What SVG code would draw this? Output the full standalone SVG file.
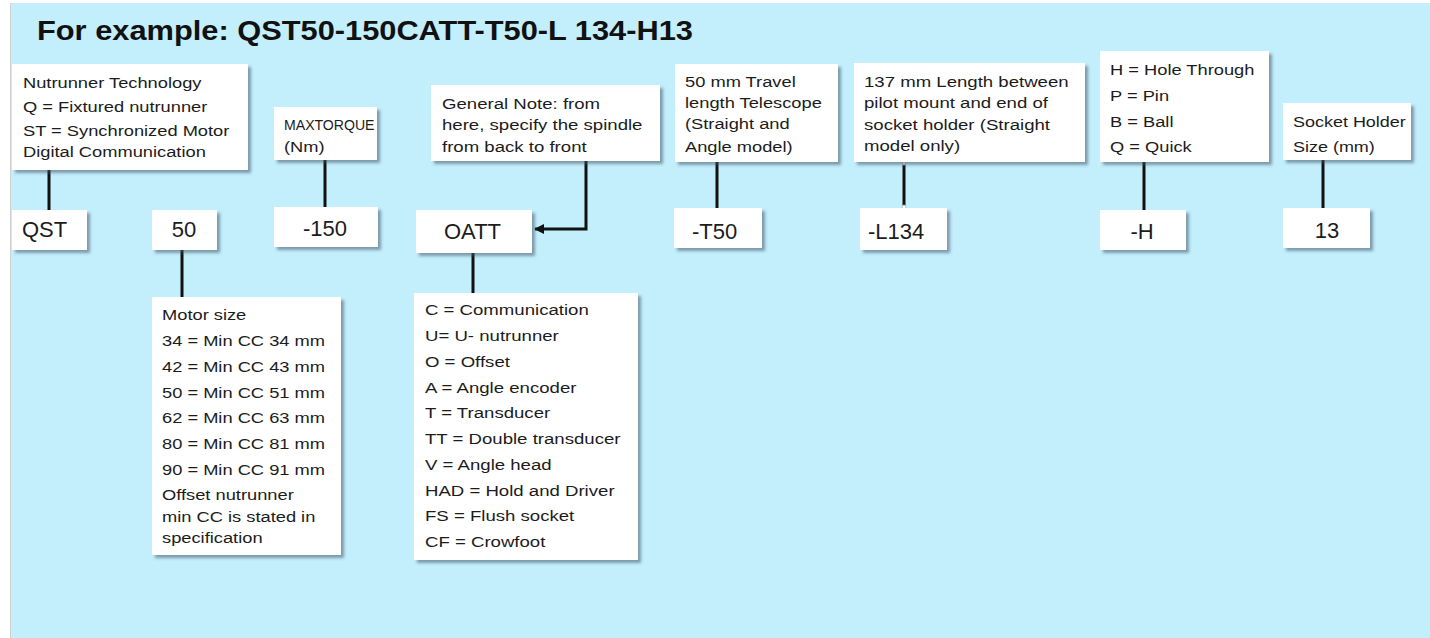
<svg xmlns="http://www.w3.org/2000/svg" width="1430" height="638" viewBox="0 0 1430 638">
<defs>
<style>
.bg{fill:#C3EEFC}
.box{fill:#ffffff;filter:url(#sh)}
.t{font-family:"Liberation Sans",Arial,Helvetica,sans-serif;font-size:15.5px;fill:#1c1c1c}
.big{font-family:"Liberation Sans",Arial,Helvetica,sans-serif;font-size:22px;fill:#1c1c1c}
.title{font-family:"Liberation Sans",Arial,Helvetica,sans-serif;font-size:28px;font-weight:bold;fill:#111111}
.ln{stroke:#111111;stroke-width:3;fill:none}
.dot{fill:#ffffff;stroke:#bbbbbb;stroke-width:0.8}
</style>
<filter id="sh" x="-5%" y="-5%" width="115%" height="125%">
<feDropShadow dx="3" dy="3" stdDeviation="1.4" flood-color="#3d5566" flood-opacity="0.55"/>
</filter>
<marker id="ah" markerWidth="10" markerHeight="10" refX="9" refY="5" orient="auto" markerUnits="userSpaceOnUse">
<path d="M0,0 L10,5 L0,10 Z" fill="#111111"/>
</marker>
</defs>
<rect x="0" y="0" width="1430" height="638" fill="#ffffff"/>
<rect class="bg" x="10" y="3" width="1420" height="635"/>
<line x1="10.5" y1="3" x2="10.5" y2="638" stroke="#d0d0d0" stroke-width="1"/>
<text class="title" x="37" y="40" textLength="656" lengthAdjust="spacingAndGlyphs">For example: QST50-150CATT-T50-L 134-H13</text>

<g id="connectors">
<line class="ln" x1="49" y1="170" x2="49" y2="210"/>
<line class="ln" x1="182" y1="250" x2="182" y2="297"/>
<line class="ln" x1="325" y1="160" x2="325" y2="207"/>
<polyline class="ln" points="586,161 586,229 535,229" marker-end="url(#ah)"/>
<line class="ln" x1="473" y1="253" x2="473" y2="293"/>
<line class="ln" x1="717" y1="162" x2="717" y2="208"/>
<line class="ln" x1="904" y1="162" x2="904" y2="208"/>
<circle class="dot" cx="904" cy="163" r="2"/>
<circle class="dot" cx="904" cy="207" r="2"/>
<line class="ln" x1="1144" y1="162" x2="1144" y2="210"/>
<line class="ln" x1="1323" y1="160" x2="1323" y2="208"/>
</g>

<g id="n-tech">
<rect class="box" x="12" y="64" width="236" height="106"/>
<text class="t" transform="translate(23,0) scale(1.18,1)"><tspan x="0" y="88">Nutrunner Technology</tspan><tspan x="0" y="112">Q = Fixtured nutrunner</tspan><tspan x="0" y="136">ST = Synchronized Motor</tspan><tspan x="0" y="157">Digital Communication</tspan></text>
</g>
<g id="n-qst">
<rect class="box" x="12" y="210" width="75" height="40"/>
<text class="big" x="22" y="237">QST</text>
</g>
<g id="n-50">
<rect class="box" x="152" y="210" width="65" height="40"/>
<text class="big" x="184" y="237" text-anchor="middle">50</text>
</g>
<g id="n-motor">
<rect class="box" x="152" y="297" width="189" height="258"/>
<text class="t" transform="translate(162,0) scale(1.18,1)"><tspan x="0" y="320">Motor size</tspan><tspan x="0" y="346">34 = Min CC 34 mm</tspan><tspan x="0" y="372">42 = Min CC 43 mm</tspan><tspan x="0" y="398">50 = Min CC 51 mm</tspan><tspan x="0" y="423">62 = Min CC 63 mm</tspan><tspan x="0" y="449">80 = Min CC 81 mm</tspan><tspan x="0" y="475">90 = Min CC 91 mm</tspan><tspan x="0" y="500">Offset nutrunner</tspan><tspan x="0" y="522">min CC is stated in</tspan><tspan x="0" y="543">specification</tspan></text>
</g>
<g id="n-maxtorque">
<rect class="box" x="274" y="107" width="103" height="53"/>
<text class="t" transform="translate(284,0) scale(0.91,1)" x="0" y="130">MAXTORQUE</text>
<text class="t" transform="translate(284,0) scale(1.18,1)" x="0" y="152">(Nm)</text>
</g>
<g id="n-150">
<rect class="box" x="274" y="207" width="104" height="40"/>
<text class="big" x="325" y="236" text-anchor="middle">-150</text>
</g>
<g id="n-note">
<rect class="box" x="431" y="85" width="229" height="76"/>
<text class="t" transform="translate(442,0) scale(1.2,1)"><tspan x="0" y="109">General Note: from</tspan><tspan x="0" y="130">here, specify the spindle</tspan><tspan x="0" y="152">from back to front</tspan></text>
</g>
<g id="n-oatt">
<rect class="box" x="416" y="210" width="116" height="43"/>
<text class="big" x="444" y="239">OATT</text>
</g>
<g id="n-codes">
<rect class="box" x="414" y="293" width="224" height="267"/>
<text class="t" transform="translate(425,0) scale(1.2,1)"><tspan x="0" y="315">C = Communication</tspan><tspan x="0" y="341">U= U- nutrunner</tspan><tspan x="0" y="367">O = Offset</tspan><tspan x="0" y="393">A = Angle encoder</tspan><tspan x="0" y="418">T = Transducer</tspan><tspan x="0" y="444">TT = Double transducer</tspan><tspan x="0" y="470">V = Angle head</tspan><tspan x="0" y="496">HAD = Hold and Driver</tspan><tspan x="0" y="521">FS = Flush socket</tspan><tspan x="0" y="547">CF = Crowfoot</tspan></text>
</g>
<g id="n-travel">
<rect class="box" x="675" y="64" width="163" height="98"/>
<text class="t" transform="translate(685,0) scale(1.18,1)"><tspan x="0" y="87">50 mm Travel</tspan><tspan x="0" y="108">length Telescope</tspan><tspan x="0" y="129">(Straight and</tspan><tspan x="0" y="152">Angle model)</tspan></text>
</g>
<g id="n-t50">
<rect class="box" x="674" y="208" width="88" height="40"/>
<text class="big" x="692" y="239">-T50</text>
</g>
<g id="n-length">
<rect class="box" x="854" y="63" width="231" height="99"/>
<text class="t" transform="translate(864,0) scale(1.2,1)"><tspan x="0" y="87">137 mm Length between</tspan><tspan x="0" y="108">pilot mount and end of</tspan><tspan x="0" y="130">socket holder (Straight</tspan><tspan x="0" y="151">model only)</tspan></text>
</g>
<g id="n-l134">
<rect class="box" x="860" y="208" width="87" height="42"/>
<text class="big" x="868" y="239">-L134</text>
</g>
<g id="n-h">
<rect class="box" x="1100" y="51" width="169" height="111"/>
<text class="t" transform="translate(1110,0) scale(1.18,1)"><tspan x="0" y="75">H = Hole Through</tspan><tspan x="0" y="101">P = Pin</tspan><tspan x="0" y="127">B = Ball</tspan><tspan x="0" y="152">Q = Quick</tspan></text>
</g>
<g id="n-hh">
<rect class="box" x="1100" y="210" width="86" height="40"/>
<text class="big" x="1142" y="239" text-anchor="middle">-H</text>
</g>
<g id="n-socket">
<rect class="box" x="1283" y="103" width="128" height="57"/>
<text class="t" transform="translate(1293,0) scale(1.16,1)"><tspan x="0" y="127">Socket Holder</tspan><tspan x="0" y="152">Size (mm)</tspan></text>
</g>
<g id="n-13">
<rect class="box" x="1283" y="208" width="87" height="40"/>
<text class="big" x="1327" y="238" text-anchor="middle">13</text>
</g>
</svg>
